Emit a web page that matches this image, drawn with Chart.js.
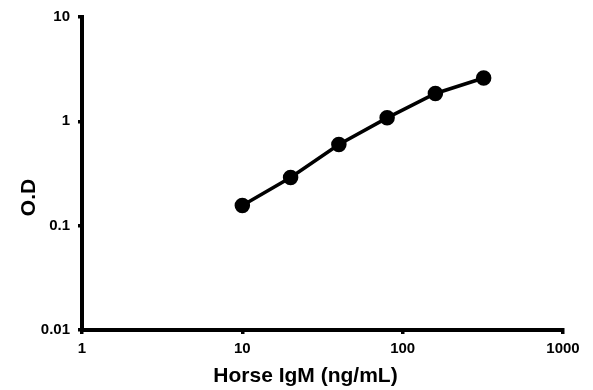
<!DOCTYPE html>
<html>
<head>
<meta charset="utf-8">
<script src="https://cdn.jsdelivr.net/npm/chart.js@4/dist/chart.umd.min.js"></script>
<style>
  html, body { margin: 0; padding: 0; background: #fff; }
  #wrap { width: 593px; height: 390px; }
</style>
</head>
<body>
<div id="wrap"><canvas id="chart" width="593" height="390"></canvas></div>
<script>
// data
var concentrations = [10, 20, 40, 80, 160, 320];
var odValues = [0.156, 0.29, 0.6, 1.08, 1.85, 2.6];
var xTicks = [1, 10, 100, 1000];
var yTicks = [0.01, 0.1, 1, 10];
var xTitle = 'Horse IgM (ng/mL)';
var yTitle = 'O.D';

var tickFont = { family: 'Liberation Sans, Arial, sans-serif', size: 15, weight: 'bold' };
var titleFont = 'bold 21px "Liberation Sans", Arial, sans-serif';

// axis titles sit a little off-centre in the original, so draw them by hand
const axisTitles = {
   id: 'axisTitles',
   afterDraw(chart) {
      const c = chart.ctx;
      const area = chart.chartArea;
      c.save();
      c.fillStyle = '#000';
      c.font = titleFont;
      c.textAlign = 'center';
      c.textBaseline = 'middle';
      c.fillText(xTitle, (area.left + area.right) / 2 - 17, 376);
      c.translate(29, (area.top + area.bottom) / 2 + 24);
      c.rotate(-Math.PI / 2);
      c.fillText(yTitle, 0, 0);
      c.restore();
   }
};

const ctx = document.getElementById('chart').getContext('2d');
const chart = new Chart(ctx, {
   type: 'line',
   data: {
      datasets: [{
         data: concentrations.map((c, i) => ({ x: c, y: odValues[i] })),
         borderColor: '#000',
         backgroundColor: '#000',
         borderWidth: 3.5,
         pointRadius: 6,
         pointHoverRadius: 6,
         fill: false,
         tension: 0
      }]
   },
   options: {
      responsive: false,
      animation: false,
      layout: { padding: { left: 0, right: 30, top: 16, bottom: 0 } },
      plugins: { legend: { display: false }, tooltip: { enabled: false } },
      scales: {
         x: {
            type: 'logarithmic',
            min: 1,
            max: 1000,
            afterBuildTicks: s => { s.ticks = xTicks.map(v => ({ value: v })); },
            afterFit: s => { s.height = 60; },
            ticks: {
               color: '#000',
               font: tickFont,
               padding: 6,
               maxRotation: 0,
               callback: v => String(v)
            },
            grid: { drawOnChartArea: false, drawTicks: true, tickLength: 4, color: '#000', lineWidth: 3.5 },
            border: { color: '#000', width: 4 }
         },
         y: {
            type: 'logarithmic',
            min: 0.01,
            max: 10,
            afterBuildTicks: s => { s.ticks = yTicks.map(v => ({ value: v })); },
            afterFit: s => { s.width = 82; },
            ticks: {
               color: '#000',
               font: tickFont,
               padding: 8,
               callback: v => String(v)
            },
            grid: { drawOnChartArea: false, drawTicks: true, tickLength: 4, color: '#000', lineWidth: 3.5 },
            border: { color: '#000', width: 4 }
         }
      }
   },
   plugins: [axisTitles]
});
</script>
</body>
</html>
